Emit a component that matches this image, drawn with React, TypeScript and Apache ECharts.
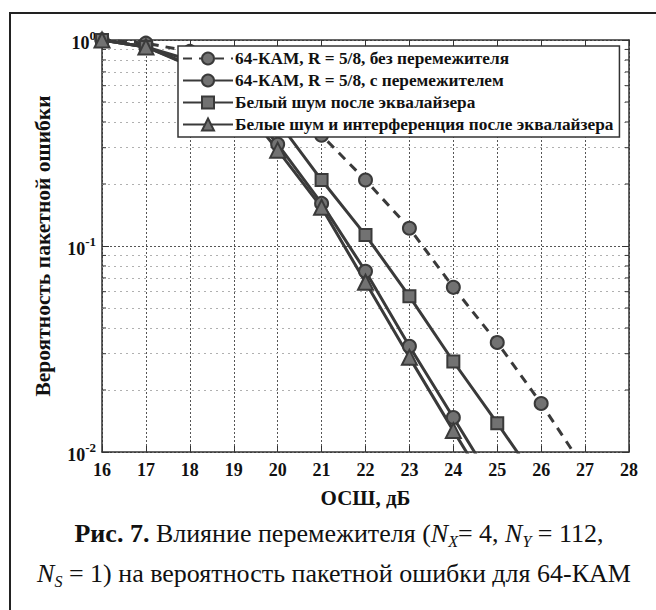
import React, { useEffect, useRef } from "react";
import * as echarts from "echarts";

const seriesNames = [
  "64-КАМ, R = 5/8, без перемежителя",
  "64-КАМ, R = 5/8, с перемежителем",
  "Белый шум после эквалайзера",
  "Белые шум и интерференция после эквалайзера",
];

const snrNoInterleaver = [16, 17, 18, 19, 20, 21, 22, 23, 24, 25, 26, 27];
const perNoInterleaver = [1.0, 0.965, 0.88, 0.75, 0.55, 0.345, 0.209, 0.122, 0.063, 0.034, 0.0172, 0.0082];

const snrInterleaver = [16, 17, 18, 19, 20, 21, 22, 23, 24, 25];
const perInterleaver = [1.0, 0.925, 0.76, 0.56, 0.312, 0.161, 0.0754, 0.0326, 0.0147, 0.0066];

const snrWhite = [16, 17, 18, 19, 20, 21, 22, 23, 24, 25, 26];
const perWhite = [1.0, 0.925, 0.8, 0.63, 0.404, 0.209, 0.113, 0.057, 0.0275, 0.0138, 0.0068];

const snrWhiteInterf = [16, 17, 18, 19, 20, 21, 22, 23, 24, 25];
const perWhiteInterf = [1.0, 0.925, 0.75, 0.54, 0.292, 0.154, 0.0667, 0.0288, 0.0127, 0.0057];

const minorValues = [0.02, 0.03, 0.04, 0.05, 0.06, 0.07, 0.08, 0.09, 0.2, 0.3, 0.4, 0.5, 0.6, 0.7, 0.8, 0.9];

const xMin = 16;
const xMax = 28;
const yMin = 0.01;
const yMax = 1;

const xTitle = "ОСШ, дБ";
const yTitle = "Вероятность пакетной ошибки";

const FONT = "'Liberation Serif', 'Times New Roman', serif";
const LINE = "#3a3a3a";
const FILL = "#727272";

function pairs(xs: number[], ys: number[]) {
  return xs.map((x, i) => [x, ys[i]]);
}

export default function App() {
  const ref = useRef<HTMLDivElement>(null);
  useEffect(() => {
    if (!ref.current) return;
    const chart = echarts.init(ref.current, null, { renderer: "svg" });

    const mkSeries = (name: string, data: number[][], symbol: string, size: number, dashed: boolean) => ({
      name,
      type: "line",
      data,
      symbol,
      symbolSize: size,
      clip: true,
      z: 3,
      lineStyle: { color: LINE, width: 3, type: dashed ? [9, 7] : "solid" },
      itemStyle: { color: FILL, borderColor: LINE, borderWidth: 2 },
      emphasis: { disabled: true },
    });

    const axisCommonX = {
      type: "value",
      min: xMin,
      max: xMax,
      interval: 1,
      axisLine: { show: true, onZero: false, lineStyle: { color: "#333", width: 1.5 } },
      axisTick: { show: true, inside: true, length: 6, lineStyle: { color: "#333", width: 1 } },
    };
    const axisCommonY = {
      type: "log",
      logBase: 10,
      min: yMin,
      max: yMax,
      axisLine: { show: true, onZero: false, lineStyle: { color: "#333", width: 1.5 } },
      axisTick: { show: true, inside: true, length: 7, lineStyle: { color: "#333", width: 1 } },
    };

    chart.setOption({
      animation: false,
      backgroundColor: "#fff",
      grid: { left: 102, right: 27, top: 40, bottom: 158, containLabel: false },
      legend: {
        orient: "vertical",
        left: 178,
        top: 46,
        data: seriesNames,
        itemWidth: 50,
        itemHeight: 15,
        itemGap: 5,
        padding: [4, 6, 4, 4],
        borderColor: "#333",
        borderWidth: 1.5,
        borderRadius: 0,
        backgroundColor: "#fff",
        z: 10,
        selectedMode: false,
        textStyle: { fontFamily: FONT, fontWeight: "bold", fontSize: 17.3, color: "#111", padding: [0, 0, 0, -3] },
      },
      xAxis: [
        {
          ...axisCommonX,
          position: "bottom",
          name: xTitle,
          nameLocation: "middle",
          nameGap: 35,
          nameTextStyle: { fontFamily: FONT, fontWeight: "bold", fontSize: 21, color: "#111" },
          axisLabel: { fontFamily: FONT, fontWeight: "bold", fontSize: 18, color: "#111", margin: 9 },
          splitLine: { show: true, lineStyle: { color: "#555", type: [2, 2], width: 1 } },
        },
        {
          ...axisCommonX,
          position: "top",
          axisLabel: { show: false },
          splitLine: { show: false },
        },
      ],
      yAxis: [
        {
          ...axisCommonY,
          position: "left",
          name: yTitle,
          nameLocation: "middle",
          nameGap: 48,
          nameRotate: 90,
          nameTextStyle: { fontFamily: FONT, fontWeight: "bold", fontSize: 21.5, color: "#111" },
          axisLabel: {
            margin: 6,
            formatter: (v: number) => "{b|10}{s|" + Math.round(Math.log10(v)) + "}",
            rich: {
              b: { fontFamily: FONT, fontWeight: "bold", fontSize: 18, color: "#111", lineHeight: 23, verticalAlign: "bottom" },
              s: { fontFamily: FONT, fontWeight: "bold", fontSize: 13, color: "#111", lineHeight: 13, verticalAlign: "top" },
            },
          },
          splitLine: { show: true, lineStyle: { color: "#555", type: [2, 2], width: 1 } },
        },
        {
          ...axisCommonY,
          position: "right",
          axisLabel: { show: false },
          splitLine: { show: false },
        },
      ],
      series: [
        {
          ...mkSeries(seriesNames[0], pairs(snrNoInterleaver, perNoInterleaver), "circle", 13, true),
          markLine: {
            silent: true,
            symbol: "none",
            label: { show: false },
            lineStyle: { color: "#b0b0b0", type: [2, 4], width: 1 },
            data: minorValues.map((v) => ({ yAxis: v })),
            z: 1,
          },
        },
        mkSeries(seriesNames[1], pairs(snrInterleaver, perInterleaver), "circle", 13, false),
        mkSeries(seriesNames[2], pairs(snrWhite, perWhite), "rect", 12, false),
        mkSeries(seriesNames[3], pairs(snrWhiteInterf, perWhiteInterf), "triangle", 15, false),
        {
          type: "custom",
          silent: true,
          z: 2,
          data: minorValues.map((v) => [v]),
          renderItem: (params: any, api: any) => {
            const v = api.value(0);
            const l = api.coord([xMin, v]);
            const r = api.coord([xMax, v]);
            const st = { stroke: "#333", lineWidth: 1 };
            return {
              type: "group",
              children: [
                { type: "line", shape: { x1: l[0], y1: l[1], x2: l[0] + 4, y2: l[1] }, style: st },
                { type: "line", shape: { x1: r[0] - 4, y1: r[1], x2: r[0], y2: r[1] }, style: st },
              ],
            };
          },
        },
      ],
      graphic: [
        {
          type: "rect",
          shape: { x: 10, y: 13, width: 700, height: 640 },
          style: { fill: "none", stroke: "#222", lineWidth: 2 },
          z: 100,
          silent: true,
        },
        {
          type: "text",
          x: 339,
          y: 533,
          style: {
            text: "{b|Рис. 7.}{n| Влияние перемежителя (}{i|N}{sub|X}{n|= 4, }{i|N}{sub|Y}{n| = 112,}",
            align: "center",
            verticalAlign: "middle",
            rich: {
              b: { fontFamily: FONT, fontWeight: "bold", fontSize: 26, fill: "#111", lineHeight: 32 },
              n: { fontFamily: FONT, fontSize: 26, fill: "#111", lineHeight: 32 },
              i: { fontFamily: FONT, fontStyle: "italic", fontSize: 26, fill: "#111", lineHeight: 32 },
              sub: { fontFamily: FONT, fontStyle: "italic", fontSize: 16, fill: "#111", lineHeight: 16, verticalAlign: "bottom" },
            },
          },
          z: 100,
        },
        {
          type: "text",
          x: 334,
          y: 573,
          style: {
            text: "{i|N}{sub|S}{n| = 1) на вероятность пакетной ошибки для 64-КАМ}",
            align: "center",
            verticalAlign: "middle",
            rich: {
              n: { fontFamily: FONT, fontSize: 26, fill: "#111", lineHeight: 32 },
              i: { fontFamily: FONT, fontStyle: "italic", fontSize: 26, fill: "#111", lineHeight: 32 },
              sub: { fontFamily: FONT, fontStyle: "italic", fontSize: 16, fill: "#111", lineHeight: 16, verticalAlign: "bottom" },
            },
          },
          z: 100,
        },
      ],
    });
    return () => chart.dispose();
  }, []);
  return <div ref={ref} style={{ position: "fixed", left: 0, top: 0, width: 656, height: 610 }} />;
}
